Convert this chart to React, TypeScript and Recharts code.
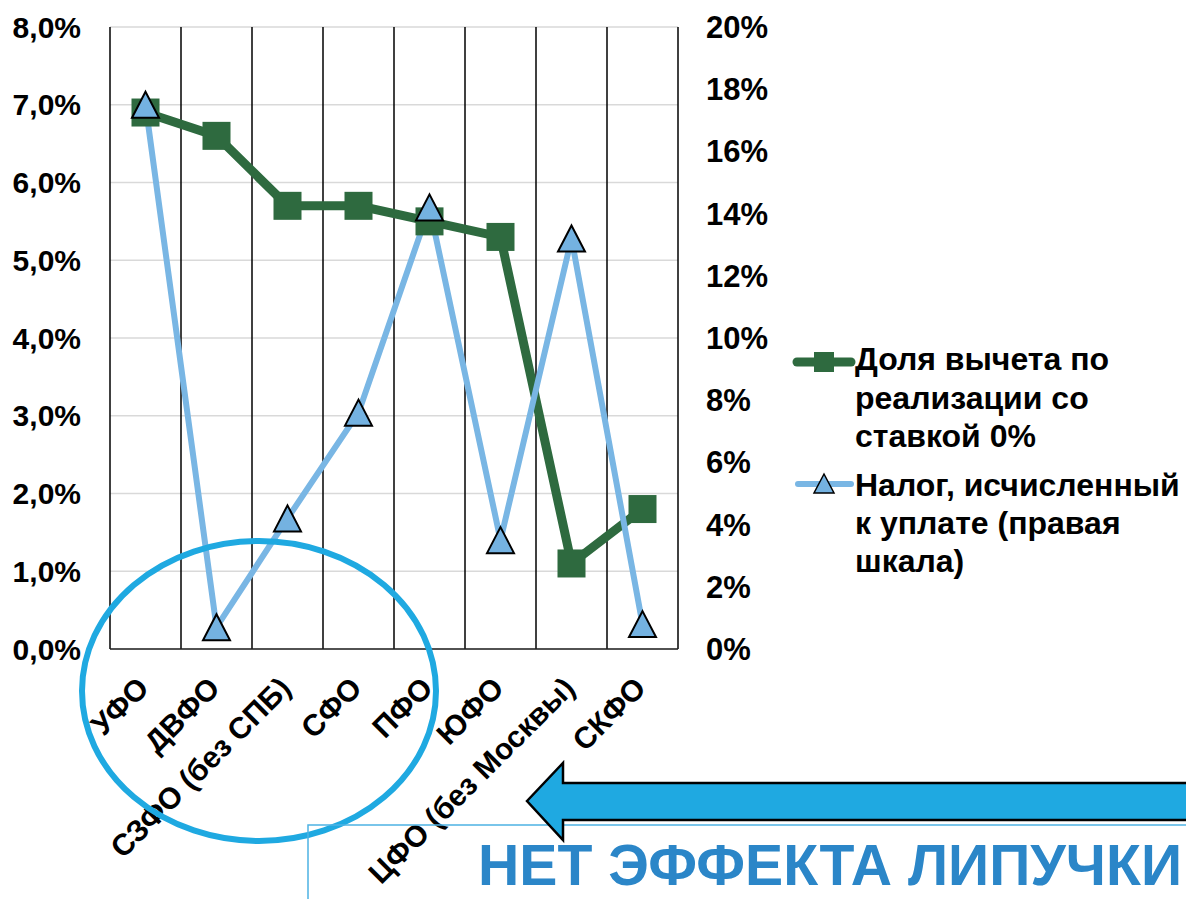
import { CartesianGrid, Line, LineChart, XAxis, YAxis } from "recharts";

const regions = ["УФО", "ДВФО", "СЗФО (без СПБ)", "СФО", "ПФО", "ЮФО", "ЦФО (без Москвы)", "СКФО"];
const zeroRateShare = [6.9, 6.6, 5.7, 5.7, 5.5, 5.3, 1.1, 1.8];
const taxPayable = [17.5, 0.7, 4.2, 7.6, 14.2, 3.5, 13.2, 0.8];
const leftTicks = [0, 1, 2, 3, 4, 5, 6, 7, 8];
const rightTicks = [0, 2, 4, 6, 8, 10, 12, 14, 16, 18, 20];
const legendGreen = ["Доля вычета по", "реализации со", "ставкой 0%"];
const legendBlue = ["Налог, исчисленный", "к уплате (правая", "шкала)"];
const banner = "НЕТ ЭФФЕКТА ЛИПУЧКИ";

const data = regions.map((name, i) => ({
  name,
  share: zeroRateShare[i],
  tax: taxPayable[i],
}));

const FONT = "'Liberation Sans', Arial, sans-serif";
const GREEN = "#2e6a3f";
const BLUE = "#79b6e4";

const leftTickStyle = { fill: "#000", fontSize: 30, fontWeight: 700, fontFamily: FONT };
const rightTickStyle = { fill: "#000", fontSize: 31, fontWeight: 700, fontFamily: FONT };

function CategoryTick({ x, y, payload }: any) {
  const tx = x + 5;
  const ty = y + 41;
  return (
    <text
      x={tx}
      y={ty}
      transform={`rotate(-45 ${tx} ${ty})`}
      textAnchor="end"
      fontSize={30}
      fontWeight={700}
      fontFamily={FONT}
      fill="#000"
    >
      {payload.value}
    </text>
  );
}

function SquareDot({ cx, cy }: any) {
  if (cx == null || cy == null) return null;
  return <rect x={cx - 14} y={cy - 14} width={28} height={28} fill={GREEN} />;
}

function TriangleDot({ cx, cy }: any) {
  if (cx == null || cy == null) return null;
  const h = 13;
  return (
    <path
      d={`M${cx},${cy - h} L${cx + 13.5},${cy + h} L${cx - 13.5},${cy + h} Z`}
      fill="#74b2e1"
      stroke="#000"
      strokeWidth={2}
    />
  );
}

// category separators: lines at band edges instead of band centres
const bandEdges = ({ offset }: any) => {
  const n = regions.length;
  const w = offset.width ?? 0;
  return Array.from({ length: n + 1 }, (_, i) => offset.left + (i * w) / n);
};

function Overlay() {
  return (
    <svg
      width={1186}
      height={899}
      style={{ position: "absolute", left: 0, top: 0, pointerEvents: "none" }}
    >
      {/* legend */}
      <line x1={797} x2={851} y1={362} y2={362} stroke={GREEN} strokeWidth={9} strokeLinecap="round" />
      <rect x={814} y={352} width={20} height={20} fill={GREEN} />
      {legendGreen.map((t, i) => (
        <text key={t} x={855} y={370 + i * 38.5} fontSize={32} fontWeight={700} fontFamily={FONT}>
          {t}
        </text>
      ))}
      <line x1={798} x2={851} y1={484} y2={484} stroke={BLUE} strokeWidth={6} strokeLinecap="round" />
      <path d="M824,474 L834,493 L814,493 Z" fill="#74b2e1" stroke="#000" strokeWidth={1.5} />
      {legendBlue.map((t, i) => (
        <text key={t} x={855} y={496 + i * 38} fontSize={32} fontWeight={700} fontFamily={FONT}>
          {t}
        </text>
      ))}

      {/* annotations */}
      <ellipse cx={259} cy={691} rx={177} ry={150} fill="none" stroke="#1fa9e1" strokeWidth={6} />
      <rect x={308} y={825} width={900} height={100} fill="none" stroke="#4db3e4" strokeWidth={1.5} />
      <path
        d="M527,801 L563,763 L563,783 L1195,783 L1195,820 L563,820 L563,840 Z"
        fill="#1fa9e1"
        stroke="#000"
        strokeWidth={2.5}
      />
      <text
        x={478}
        y={885}
        fontSize={58}
        fontWeight={700}
        fontFamily={FONT}
        fill="#2b86c8"
        textLength={704}
        lengthAdjust="spacingAndGlyphs"
      >
        {banner}
      </text>
    </svg>
  );
}

export default function App() {
  return (
    <div style={{ position: "absolute", left: 0, top: 0, width: 1186, height: 899, background: "#fff" }}>
      <LineChart
        width={1186}
        height={899}
        data={data}
        margin={{ top: 27, right: 408, bottom: 220, left: 0 }}
      >
        <CartesianGrid yAxisId="left" vertical={false} stroke="#d9d9d9" strokeWidth={1.5} />
        <CartesianGrid
          yAxisId="left"
          horizontal={false}
          stroke="#000"
          strokeWidth={1.5}
          verticalCoordinatesGenerator={bandEdges}
        />
        <XAxis
          dataKey="name"
          scale="band"
          interval={0}
          height={30}
          tickLine={false}
          tickSize={0}
          tickMargin={0}
          axisLine={{ stroke: "#222", strokeWidth: 1.5 }}
          tick={<CategoryTick />}
        />
        <YAxis
          yAxisId="left"
          width={110}
          domain={[0, 8]}
          ticks={leftTicks}
          axisLine={false}
          tickLine={false}
          tickSize={0}
          tickMargin={29}
          tick={leftTickStyle}
          tickFormatter={(v: number) => `${v.toFixed(1).replace(".", ",")}%`}
        />
        <YAxis
          yAxisId="right"
          orientation="right"
          width={100}
          domain={[0, 20]}
          ticks={rightTicks}
          axisLine={false}
          tickLine={false}
          tickSize={0}
          tickMargin={28}
          tick={rightTickStyle}
          tickFormatter={(v: number) => `${v}%`}
        />
        <Line
          yAxisId="left"
          dataKey="share"
          stroke={GREEN}
          strokeWidth={9}
          dot={<SquareDot />}
          activeDot={false}
          isAnimationActive={false}
        />
        <Line
          yAxisId="right"
          dataKey="tax"
          stroke={BLUE}
          strokeWidth={6}
          dot={<TriangleDot />}
          activeDot={false}
          isAnimationActive={false}
        />
      </LineChart>
      <Overlay />
    </div>
  );
}
